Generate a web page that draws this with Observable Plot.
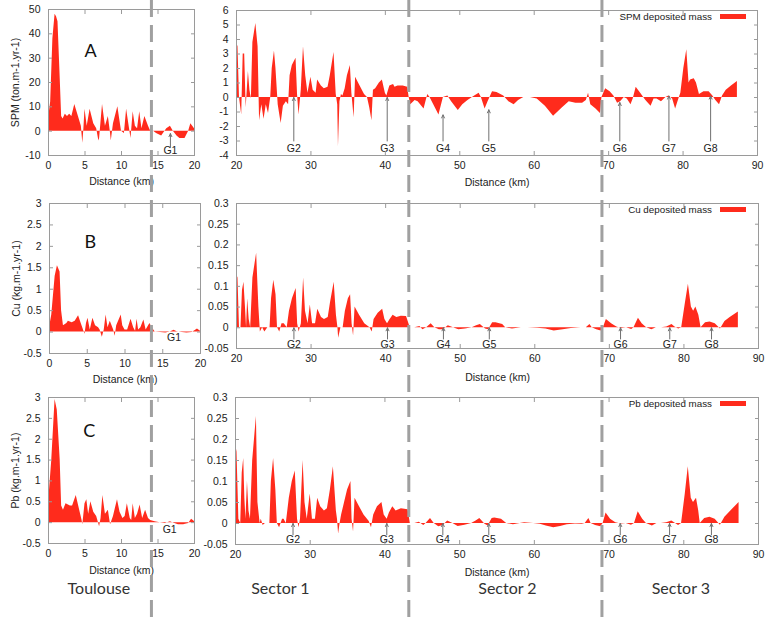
<!DOCTYPE html>
<html><head><meta charset="utf-8">
<script src="https://cdn.jsdelivr.net/npm/d3@7"></script>
<script src="https://cdn.jsdelivr.net/npm/@observablehq/plot@0.6"></script>
<style>
body{margin:0;background:#fff;}
#fig{position:relative;width:767px;height:621px;overflow:hidden;font-family:"Liberation Sans",Arial,sans-serif;background:#fff;}
#fig svg{position:absolute;overflow:visible;}
.legend{position:absolute;font-size:9.8px;color:#222;display:flex;align-items:center;white-space:nowrap;}
.legend .sw{display:inline-block;width:26px;height:5px;background:#ff2b1c;margin-left:8px;}
</style></head><body><div id="fig"></div><script>
// ---------------- data ----------------
const spmToulouse = [[0,5],[0.3,12],[0.6,38],[0.9,48],[1.1,47],[1.3,45],[1.6,22],[1.8,6],[2.0,5],[2.3,7],[2.6,6],[2.9,7],[3.2,6],[3.6,11],[4.1,6],[4.5,2],[4.7,-5],[4.85,1],[5.0,9],[5.3,2],[5.7,9],[6.2,3],[6.6,1],[6.9,-4],[7.0,-3],[7.2,4],[7.4,11],[7.8,2],[8.2,6],[8.5,-1],[8.6,-4],[8.9,3],[9.5,10],[9.8,4],[10.0,0],[10.4,-1],[10.7,9],[11.1,1],[11.3,-3],[11.6,8],[11.9,2],[12.2,1],[12.5,8],[12.8,1],[13.2,6],[13.7,2],[14.0,0],[14.4,0],[14.8,-1],[15.5,-2],[16.2,1],[16.7,2],[17.1,0],[17.6,-2],[18.0,-3],[18.7,-3],[19.2,0],[19.5,3],[20,1]];
const spmSectors = [[20.0,3.8],[20.2,3.5],[20.4,0],[20.7,-1.2],[20.9,3.0],[21.1,3.0],[21.3,-0.7],[21.6,1.8],[21.8,0.5],[22.0,-0.1],[22.2,3.8],[22.6,5.1],[22.9,3.5],[23.1,-1.6],[23.4,-0.5],[23.7,-1.5],[24.0,-0.5],[24.3,-1.1],[24.6,0],[24.8,2.0],[25.1,3.2],[25.3,2.0],[25.6,-0.5],[26.0,-1.8],[26.3,-0.6],[26.7,-0.3],[27.0,-0.5],[27.2,1.5],[27.5,2.2],[28.0,2.7],[28.2,0.2],[28.4,-1.2],[28.7,0.5],[29.0,3.5],[29.3,1.5],[29.6,0.3],[30.0,1.4],[30.3,0.5],[30.7,0.3],[30.9,1.2],[31.4,0.8],[31.8,0.6],[32.3,0.7],[32.6,1.5],[33.1,3.1],[33.4,0.2],[33.6,-0.5],[33.7,-3.4],[33.9,-0.3],[34.1,0.2],[34.3,0.1],[34.6,0.6],[34.9,1.5],[35.3,2.2],[35.5,0.3],[35.8,-1.4],[36.0,1.4],[36.5,0.9],[37.2,0.2],[37.6,0],[37.9,-0.7],[38.2,-1.6],[38.4,0.5],[38.7,0.6],[39.2,1.0],[39.6,1.2],[40.0,0.3],[40.2,0.1],[40.6,0.8],[41.1,0.9],[41.3,0.7],[41.7,0.8],[42.4,0.8],[43.0,0.7],[43.2,0],[43.4,-0.5],[44.0,-0.2],[44.4,-0.3],[45.2,-0.8],[45.7,0.2],[46.0,0],[46.5,-0.5],[47.2,-1.2],[47.8,0],[48.4,0.1],[48.9,-0.3],[49.8,-0.9],[50.4,-0.5],[51.1,-0.2],[52.0,0.1],[52.6,0.3],[52.9,0],[53.4,-0.8],[53.8,-0.3],[54.4,0.4],[55.0,0.35],[55.9,0.1],[56.6,-0.3],[57.3,-0.5],[57.9,-0.2],[58.6,0],[59.5,0],[60.4,-0.1],[61.5,-0.6],[62.6,-1.3],[63.8,-0.7],[64.7,-0.3],[65.6,-0.4],[66.5,-0.4],[67.0,-0.2],[67.3,0.3],[67.6,-0.5],[68.3,-0.8],[68.9,-1.1],[69.1,0],[69.6,0.6],[70.2,0.4],[70.7,0.1],[71.2,-0.4],[71.6,-0.3],[72.1,0],[72.5,-0.1],[73.0,-0.5],[73.3,-0.1],[73.7,0.7],[74.3,0.3],[75.0,-0.2],[75.7,-0.6],[76.1,-0.1],[76.5,-0.1],[77.1,-0.3],[77.7,0],[78.1,0.1],[78.6,-0.1],[79.0,-0.8],[79.5,0],[79.7,0.3],[80.1,2.0],[80.5,3.3],[80.8,1.0],[81.0,1.2],[81.5,1.3],[81.8,1.0],[82.2,0.2],[82.8,0.4],[83.5,0.4],[84.0,0.1],[84.4,-0.2],[84.9,-0.5],[85.3,0.1],[85.8,0.5],[86.5,0.8],[87.3,1.1]];
const cuToulouse = [[0,0.1],[0.3,0.4],[0.75,1.3],[1.05,1.55],[1.4,1.4],[1.6,0.5],[1.85,0.15],[2.3,0.2],[2.5,0.25],[3.0,0.22],[3.4,0.25],[3.85,0.38],[4.2,0.2],[4.5,0.05],[4.7,-0.05],[4.9,0.2],[5.1,0.32],[5.4,0.05],[5.75,0.32],[6.1,0.15],[6.5,0.1],[6.7,0.05],[7.0,-0.12],[7.25,0.05],[7.5,0.4],[7.75,0.1],[8.05,0.25],[8.5,0.05],[8.7,-0.1],[8.9,0.15],[9.5,0.4],[9.7,0.15],[10.0,0.05],[10.35,0.05],[10.8,0.3],[11.15,0.1],[11.4,0.02],[11.6,0.3],[11.8,0.05],[12.1,0.1],[12.5,0.28],[12.8,0.05],[13.3,0.2],[13.6,0.1],[14.0,0.0],[14.7,-0.01],[15.4,-0.02],[16.0,0.0],[16.5,0.04],[16.9,0.01],[17.6,-0.01],[18.2,-0.02],[18.9,-0.01],[19.6,0.07],[20,0.02]];
const cuSectors = [[20.0,0.13],[20.2,0.12],[20.4,0],[20.6,0],[20.8,0.09],[21.0,0.11],[21.2,0.05],[21.35,0],[21.5,0.07],[21.7,0.02],[21.9,0],[22.2,0.12],[22.7,0.18],[23.0,0.05],[23.2,-0.01],[23.5,0],[23.8,-0.01],[24.2,0],[24.5,0],[24.7,0.07],[25.0,0.115],[25.3,0.08],[25.5,0],[25.8,-0.01],[26.1,0.01],[26.4,0.01],[26.8,0],[27.1,0.04],[27.5,0.07],[28.0,0.095],[28.2,0.01],[28.4,-0.01],[28.7,0.01],[29.0,0.12],[29.25,0.04],[29.6,0.01],[29.9,0.055],[30.2,0.01],[30.6,0.01],[30.9,0.045],[31.4,0.025],[31.8,0.02],[32.3,0.025],[32.6,0.06],[33.1,0.11],[33.4,0.03],[33.6,0],[33.7,-0.025],[34.0,0],[34.3,0],[34.6,0.04],[35.0,0.07],[35.3,0.08],[35.5,0.01],[35.7,-0.02],[35.9,0.05],[36.5,0.03],[37.2,0.01],[37.9,0],[38.2,-0.01],[38.45,0.02],[39.0,0.035],[39.6,0.045],[39.9,0.02],[40.25,0.01],[40.6,0.02],[41.0,0.03],[41.5,0.025],[42.1,0.028],[42.8,0.027],[43.3,0],[43.9,0],[44.6,0.003],[45.0,-0.005],[45.5,0],[46.1,0.01],[46.6,0],[47.2,-0.005],[47.75,-0.005],[48.4,0.005],[49.1,0],[49.8,-0.005],[50.7,-0.003],[51.6,0],[52.2,0.005],[52.7,0.008],[53.4,-0.003],[53.8,-0.005],[54.35,0.012],[54.8,0.012],[55.7,0.008],[56.1,0],[57.0,-0.003],[58.2,0],[59.1,0],[60.4,-0.001],[61.5,-0.003],[62.6,-0.008],[63.8,-0.005],[64.9,-0.002],[66.2,0],[66.9,0],[67.4,0.008],[67.7,0],[68.3,-0.005],[68.9,-0.008],[69.2,0],[69.6,0.02],[70.3,0.01],[71.0,0.002],[71.6,-0.002],[72.3,0],[73.0,-0.004],[73.3,0],[73.9,0.023],[74.4,0.01],[75.0,0],[75.7,-0.005],[76.3,0],[77.0,0],[77.7,0.002],[78.4,0.008],[78.8,0.002],[79.3,-0.003],[79.7,0],[80.2,0.06],[80.6,0.105],[81.0,0.05],[81.3,0.04],[81.6,0.05],[82.0,0.03],[82.3,0],[82.9,0.012],[83.5,0.014],[84.2,0.01],[84.9,-0.003],[85.5,0.015],[86.2,0.025],[87.3,0.038]];
const pbToulouse = [[0,0.45],[0.45,1.5],[0.9,2.95],[1.2,2.7],[1.6,1.5],[1.8,0.4],[2.05,0.3],[2.4,0.45],[3.0,0.4],[3.3,0.4],[3.8,0.65],[4.2,0.35],[4.6,0.05],[4.7,-0.05],[5.0,0.45],[5.25,0.55],[5.5,0.2],[5.8,0.5],[6.2,0.25],[6.6,0.15],[7.0,-0.1],[7.2,0.1],[7.45,0.65],[7.8,0.2],[8.2,0.3],[8.5,-0.05],[8.9,0.15],[9.45,0.55],[9.8,0.25],[10.2,0.1],[10.5,0.15],[10.8,0.45],[11.2,0.1],[11.4,0.05],[11.6,0.45],[11.9,0.1],[12.2,0.2],[12.55,0.42],[12.9,0.1],[13.3,0.3],[13.7,0.1],[14.0,0.05],[14.6,0.02],[15.3,0.0],[16.0,-0.02],[16.7,0.02],[17.1,-0.01],[17.8,-0.05],[18.5,-0.05],[19.2,-0.02],[19.6,0.08],[20,0.03]];
const pbSectors = [[20.0,0.19],[20.2,0.17],[20.45,0.01],[20.7,0],[20.9,0.12],[21.1,0.155],[21.25,0.06],[21.4,0.01],[21.6,0.1],[21.8,0.03],[22.0,0.01],[22.3,0.15],[22.8,0.255],[23.0,0.05],[23.3,0],[23.45,0.01],[23.7,-0.005],[24.0,0],[24.6,0],[24.8,0.1],[25.1,0.155],[25.4,0.08],[25.6,0],[25.9,-0.01],[26.3,0.01],[26.5,0.01],[26.8,0],[27.2,0.06],[27.6,0.1],[28.0,0.125],[28.3,0.01],[28.5,-0.01],[28.7,0.01],[29.05,0.15],[29.3,0.05],[29.6,0.01],[30.0,0.07],[30.3,0.01],[30.7,0.01],[31.0,0.06],[31.4,0.04],[31.9,0.03],[32.3,0.035],[32.7,0.08],[33.1,0.135],[33.5,0.03],[33.65,0.01],[33.8,-0.025],[34.0,0],[34.2,0.02],[34.6,0.05],[35.0,0.08],[35.45,0.1],[35.6,0.01],[35.8,-0.02],[36.0,0.06],[36.6,0.04],[37.2,0.02],[37.9,0.005],[38.2,-0.01],[38.5,0.02],[39.0,0.04],[39.6,0.05],[39.9,0.02],[40.3,0.01],[40.6,0.025],[41.05,0.04],[41.5,0.03],[42.2,0.035],[43.1,0.033],[43.4,0],[44.0,0],[44.6,0.003],[45.2,-0.005],[45.5,0],[46.1,0.012],[46.6,0],[47.2,-0.008],[47.8,-0.005],[48.4,0.006],[49.1,0],[49.8,-0.007],[50.7,-0.004],[51.6,0],[52.2,0.006],[52.7,0.012],[53.4,-0.002],[53.8,-0.006],[54.35,0.012],[54.7,0.013],[55.6,0.01],[56.3,0],[57.2,-0.003],[58.1,0],[58.7,0.002],[59.9,0],[60.8,-0.002],[61.6,-0.006],[62.6,-0.01],[63.5,-0.007],[64.4,-0.003],[65.5,-0.001],[66.4,-0.002],[66.8,0],[67.3,0.012],[67.6,0],[68.2,-0.005],[68.9,-0.008],[69.2,0],[69.6,0.025],[70.2,0.01],[70.9,0.002],[71.6,-0.001],[72.3,0],[73.0,-0.004],[73.4,0],[73.9,0.028],[74.5,0.01],[75.0,0],[75.8,-0.006],[76.4,0],[77.0,0],[77.7,0.002],[78.4,0.006],[78.8,0.001],[79.3,-0.005],[79.7,0],[80.2,0.07],[80.6,0.135],[81.0,0.06],[81.3,0.05],[81.7,0.06],[82.0,0.03],[82.2,0],[82.8,0.012],[83.5,0.015],[84.2,0.01],[84.9,-0.004],[85.5,0.015],[86.2,0.028],[87.4,0.05]];

// gauging stations
const gNames = ["G2","G3","G4","G5","G6","G7","G8"];
const gKm = [27.7, 40.25, 47.75, 53.9, 71.5, 78.1, 83.7];
const gSpmTip = [0, 0, -1.2, -0.85, -0.35, 0.1, 0.1];
const g1Km = 16.7;

// tick labels
const xTicksToulouse = [0, 5, 10, 15, 20];
const xTicksSectors = [20, 30, 40, 50, 60, 70, 80, 90];
const yTicksSpmToulouse = [-10, 0, 10, 20, 30, 40, 50];
const yTicksSpmSectors = [-4, -3, -2, -1, 0, 1, 2, 3, 4, 5, 6];
const yTicksMetalToulouse = [-0.5, 0, 0.5, 1, 1.5, 2, 2.5, 3];
const yTicksMetalSectors = [-0.05, 0, 0.05, 0.1, 0.15, 0.2, 0.25, 0.3];

// sectors
const leftBounds = [14.1];
const rightBounds = [43.15, 69.1];
const leftSectorNames = ["Toulouse"];
const leftSectorKm = [6.9];
const rightSectorNames = ["Sector 1", "Sector 2", "Sector 3"];
const rightSectorKm = [25.9, 56.4, 79.7];

const panelLetters = ["A", "B", "C"];
const letterKm = [5.75, 5.4, 5.6];
const letterVal = [33, 2.1, 2.2];
const legendNames = ["SPM deposited mass", "Cu deposited mass", "Pb deposited mass"];
const yTitles = ["SPM (ton.m-1.yr-1)", "Cu (kg.m-1.yr-1)", "Pb (kg.m-1.yr-1)"];

// ---------------- drawing ----------------
const RED = "#ff2b1c", GRAY = "#9a9a9a", TXT = "#222";
const fig = document.getElementById("fig");
const fmt = d => String(d);
const blank = () => "";

function panel(c) {
  const data = c.series.map(([x, y]) => ({x, y}));
  const marks = [
    Plot.areaY(data, {x: "x", y: "y", fill: RED}),
    ...(c.extra || []),
    Plot.frame({stroke: GRAY}),
    Plot.axisX({ticks: c.xTicks, tickSize: -4, tickPadding: 10, stroke: GRAY, tickFormat: fmt,
      label: "Distance (km)", labelAnchor: "center", labelArrow: "none", labelOffset: c.xLabelOffset}),
    Plot.axisX({anchor: "top", ticks: c.xTicks, tickSize: -4, tickFormat: blank, stroke: GRAY, label: null}),
    Plot.axisY({ticks: c.yTicks, tickSize: -4, tickPadding: 12, stroke: GRAY, tickFormat: fmt,
      label: c.yLabel || null, labelAnchor: "center", labelArrow: "none", labelOffset: 37}),
    Plot.axisY({anchor: "right", ticks: c.yTicks, tickSize: -4, tickFormat: blank, stroke: GRAY, label: null})
  ];
  const svg = Plot.plot({
    width: c.w, height: c.h,
    marginLeft: c.ml, marginRight: c.mr, marginTop: c.mt, marginBottom: c.mb,
    x: {domain: c.xDomain}, y: {domain: c.yDomain},
    style: {background: "transparent", fontSize: "10.5px", fontFamily: "'Liberation Sans', Arial, sans-serif", color: TXT},
    marks
  });
  svg.style.left = c.left + "px"; svg.style.top = c.top + "px";
  fig.appendChild(svg);
}

const gLabelStyle = {fontSize: 10.5, fill: TXT};
function gMarks(tips, base, label) {
  const gd = gNames.map((n, i) => ({n, x: gKm[i], tip: tips[i]}));
  return [
    Plot.arrow(gd, {x1: "x", x2: "x", y1: () => base, y2: "tip", stroke: "#707070", strokeWidth: 1, headLength: 5, headAngle: 50}),
    Plot.text(gd, {x: "x", y: () => label, text: "n", ...gLabelStyle})
  ];
}
function letter(i) {
  return Plot.text([panelLetters[i]], {x: () => letterKm[i], y: () => letterVal[i], text: d => d, fontSize: 18, fontFamily: "Lato, sans-serif", fill: "#111"});
}

// Row A
panel({series: spmToulouse, xDomain: [0, 20], yDomain: [-10, 50], xTicks: xTicksToulouse, yTicks: yTicksSpmToulouse,
  yLabel: yTitles[0], left: 0, top: 0, w: 200, h: 190, ml: 48, mr: 6, mt: 9, mb: 35, xLabelOffset: 29,
  extra: [letter(0),
    Plot.arrow([g1Km], {x1: d => d, x2: d => d, y1: () => -6.4, y2: () => -1, stroke: "#707070", strokeWidth: 1, headLength: 5, headAngle: 50}),
    Plot.text(["G1"], {x: () => g1Km, y: () => -8.1, text: d => d, ...gLabelStyle})]});
panel({series: spmSectors, xDomain: [20, 90], yDomain: [-4, 6], xTicks: xTicksSectors, yTicks: yTicksSpmSectors,
  left: 200, top: 0, w: 567, h: 190, ml: 36, mr: 10, mt: 10, mb: 35, xLabelOffset: 30,
  extra: gMarks(gSpmTip, -3.0, -3.55)});
// Row B
panel({series: cuToulouse, xDomain: [0, 20], yDomain: [-0.5, 3], xTicks: xTicksToulouse, yTicks: yTicksMetalToulouse,
  yLabel: yTitles[1], left: 0, top: 190, w: 210, h: 195, ml: 49, mr: 10, mt: 13, mb: 32, xLabelOffset: 29,
  extra: [letter(1), Plot.text(["G1"], {x: () => 16.5, y: () => -0.125, text: d => d, ...gLabelStyle})]});
panel({series: cuSectors, xDomain: [20, 90], yDomain: [-0.05, 0.3], xTicks: xTicksSectors, yTicks: yTicksMetalSectors,
  left: 200, top: 190, w: 567, h: 195, ml: 36, mr: 9, mt: 13, mb: 37, xLabelOffset: 32,
  extra: gMarks(gNames.map(() => 0), -0.027, -0.041)});
// Row C
panel({series: pbToulouse, xDomain: [0, 20], yDomain: [-0.5, 3], xTicks: xTicksToulouse, yTicks: yTicksMetalToulouse,
  yLabel: yTitles[2], left: 0, top: 385, w: 200, h: 236, ml: 48, mr: 6, mt: 12, mb: 78, xLabelOffset: 30,
  extra: [letter(2), Plot.text(["G1"], {x: () => 16.6, y: () => -0.16, text: d => d, ...gLabelStyle})]});
panel({series: pbSectors, xDomain: [20, 90], yDomain: [-0.05, 0.3], xTicks: xTicksSectors, yTicks: yTicksMetalSectors,
  left: 200, top: 385, w: 567, h: 236, ml: 35, mr: 9, mt: 12, mb: 77, xLabelOffset: 31,
  extra: gMarks(gNames.map(() => 0), -0.027, -0.039)});

// Overlays: sector boundaries and sector names
function overlay(c) {
  const svg = Plot.plot({
    width: c.w, height: 621, marginLeft: c.ml, marginRight: c.mr, marginTop: 0, marginBottom: 0,
    x: {domain: c.xDomain, axis: null}, y: {domain: [0, 1], axis: null},
    style: {background: "transparent"},
    marks: [
      Plot.ruleX(c.bounds, {stroke: "#a0a0a0", strokeWidth: 3, strokeDasharray: "17,8"}),
      Plot.text(c.names, {x: (d, i) => c.km[i], text: d => d, frameAnchor: "bottom", dy: -28,
        fontSize: 16, fontFamily: "Lato, 'Open Sans', sans-serif", fill: "#333"})
    ]
  });
  svg.style.left = c.left + "px"; svg.style.top = "0px";
  fig.appendChild(svg);
}
overlay({w: 200, ml: 48, mr: 6, left: 0, xDomain: [0, 20], bounds: leftBounds, names: leftSectorNames, km: leftSectorKm});
overlay({w: 567, ml: 36, mr: 10, left: 200, xDomain: [20, 90], bounds: rightBounds, names: rightSectorNames, km: rightSectorKm});

// Legends (HTML, top-right inside each right panel)
const legendTops = [11, 204, 398];
legendNames.forEach((n, i) => {
  const d = document.createElement("div");
  d.className = "legend";
  d.style.right = (767 - 746) + "px";
  d.style.top = legendTops[i] + "px";
  d.innerHTML = `<span>${n}</span><span class="sw"></span>`;
  fig.appendChild(d);
});
</script></body></html>
